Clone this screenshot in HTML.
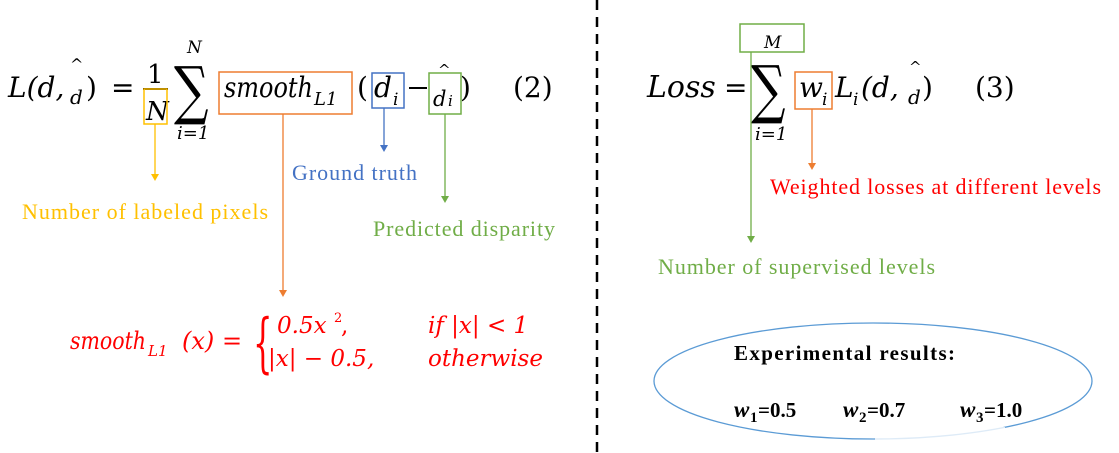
<!DOCTYPE html>
<html><head><meta charset="utf-8"><style>
html,body{margin:0;padding:0;background:#fff;}
svg{display:block;}
.m{font-family:"DejaVu Serif",serif;font-style:italic;}
.u{font-family:"DejaVu Serif",serif;}
.r{font-family:"Liberation Serif",serif;}
</style></head><body>
<svg width="1119" height="453" viewBox="0 0 1119 453" xmlns="http://www.w3.org/2000/svg">
<line x1="597" y1="0" x2="597" y2="453" stroke="#000" stroke-width="2.5" stroke-dasharray="10,7"/>

<!-- Left equation -->
<text class="m" x="8" y="97" font-size="28">L(d,</text>
<text class="u" x="70" y="70" font-size="16">^</text>
<text class="m" x="70" y="104" font-size="20">d</text>
<text class="u" x="86" y="97" font-size="28">)</text>
<text class="u" x="111" y="97" font-size="28">=</text>
<text class="u" x="147" y="83" font-size="26">1</text>
<line x1="143" y1="89" x2="168" y2="89" stroke="#000" stroke-width="2"/>
<text class="m" x="146" y="120" font-size="26">N</text>
<rect x="144" y="89" width="23" height="35" fill="none" stroke="#ffc000" stroke-width="1.5"/>
<text class="u" x="0" y="0" font-size="44" transform="translate(174,112) scale(1.1,1.45)">∑</text>
<text class="m" x="187" y="53" font-size="17">N</text>
<text class="m" x="177" y="139" font-size="18">i=1</text>
<rect x="219" y="72" width="133" height="42" fill="none" stroke="#ed7d31" stroke-width="1.5"/>
<text class="m" x="224" y="97" font-size="28" textLength="89" lengthAdjust="spacingAndGlyphs">smooth</text>
<text class="m" x="314" y="105" font-size="18">L1</text>
<text class="u" x="357" y="97" font-size="28">(</text>
<rect x="372" y="73" width="32" height="35" fill="none" stroke="#4472c4" stroke-width="1.5"/>
<text class="m" x="374" y="97" font-size="28">d</text>
<text class="m" x="393" y="105" font-size="17">i</text>
<line x1="409" y1="88" x2="427" y2="88" stroke="#000" stroke-width="2"/>
<text class="u" x="438" y="75" font-size="15">^</text>
<rect x="429" y="73" width="32" height="41" fill="none" stroke="#70ad47" stroke-width="1.5"/>
<text class="m" x="433" y="106" font-size="21">d</text>
<text class="m" x="448" y="106" font-size="15">i</text>
<text class="u" x="460" y="97" font-size="28">)</text>
<text class="u" x="513" y="97" font-size="28">(2)</text>

<!-- arrows left -->
<line x1="155" y1="124" x2="155" y2="175" stroke="#ffc000" stroke-width="1.3"/>
<path d="M151,174 L159,174 L155,181 z" fill="#ffc000"/>
<line x1="384" y1="108" x2="384" y2="146" stroke="#4472c4" stroke-width="1.3"/>
<path d="M380,145 L388,145 L384,152 z" fill="#4472c4"/>
<line x1="445" y1="114" x2="445" y2="197" stroke="#70ad47" stroke-width="1.3"/>
<path d="M441,196 L449,196 L445,203 z" fill="#70ad47"/>
<line x1="283" y1="114" x2="283" y2="291" stroke="#ed7d31" stroke-width="1.3"/>
<path d="M279,290 L287,290 L283,297 z" fill="#ed7d31"/>

<text class="r" x="292" y="180" font-size="22" fill="#4472c4" textLength="125">Ground truth</text>
<text class="r" x="22" y="219" font-size="22" fill="#ffc000" textLength="246">Number of labeled pixels</text>
<text class="r" x="373" y="236" font-size="22" fill="#70ad47" textLength="182">Predicted disparity</text>

<!-- red formula -->
<g fill="#ff0000">
<text class="m" x="70" y="349" font-size="24" textLength="76" lengthAdjust="spacingAndGlyphs">smooth</text>
<text class="m" x="148" y="356" font-size="15">L1</text>
<text class="m" x="182" y="349" font-size="24">(x)</text>
<text class="u" x="222" y="349" font-size="24">=</text>
<text class="u" x="0" y="0" font-size="34" transform="translate(253,365) scale(0.9,1.9)">{</text>
<text class="m" x="277" y="333" font-size="23">0.5x</text>
<text class="u" x="334" y="322" font-size="13">2</text>
<text class="u" x="341" y="333" font-size="23">,</text>
<text class="m" x="268" y="366" font-size="23">|x| − 0.5,</text>
<text class="m" x="428" y="333" font-size="23">if |x| &lt; 1</text>
<text class="m" x="428" y="366" font-size="23">otherwise</text>
</g>

<!-- Right equation -->
<text class="m" x="647" y="97" font-size="30">Loss</text>
<text class="u" x="724" y="97" font-size="28">=</text>
<rect x="740" y="24" width="64" height="28" fill="none" stroke="#70ad47" stroke-width="1.5"/>
<text class="m" x="764" y="48" font-size="17">M</text>
<text class="u" x="0" y="0" font-size="44" transform="translate(751,111) scale(1.1,1.45)">∑</text>
<text class="m" x="755" y="140" font-size="18">i=1</text>
<rect x="795" y="72" width="37" height="37" fill="none" stroke="#ed7d31" stroke-width="1.5"/>
<text class="m" x="799" y="97" font-size="28">w</text>
<text class="m" x="822" y="105" font-size="17">i</text>
<text class="m" x="835" y="97" font-size="28">L</text>
<text class="m" x="853" y="105" font-size="17">i</text>
<text class="m" x="861" y="97" font-size="28">(d,</text>
<text class="u" x="909" y="72" font-size="15">^</text>
<text class="m" x="908" y="104" font-size="20">d</text>
<text class="u" x="922" y="97" font-size="28">)</text>
<text class="u" x="975" y="97" font-size="28">(3)</text>

<line x1="751" y1="52" x2="751" y2="237" stroke="#70ad47" stroke-width="1.3"/>
<path d="M747,236 L755,236 L751,243 z" fill="#70ad47"/>
<line x1="812" y1="109" x2="812" y2="164" stroke="#ed7d31" stroke-width="1.3"/>
<path d="M808,163 L816,163 L812,170 z" fill="#ed7d31"/>

<text class="r" x="770" y="194" font-size="22" fill="#ff0000" textLength="331">Weighted losses at different levels</text>
<text class="r" x="658" y="274" font-size="22" fill="#70ad47" textLength="277">Number of supervised levels</text>

<ellipse cx="873" cy="381" rx="219" ry="58" fill="none" stroke="#5b9bd5" stroke-width="1.3"/>
<rect x="875" y="427" width="130" height="18" fill="#fff" opacity="0.8"/>
<text class="r" x="734" y="360" font-size="21" font-weight="bold" textLength="221">Experimental results:</text>
<g>
<text class="r" x="734" y="417" font-size="23" font-style="italic" font-weight="bold">w</text><text class="r" x="750" y="422" font-size="15" font-weight="bold">1</text><text class="r" x="758" y="417" font-size="21" font-weight="bold">=0.5</text>
<text class="r" x="843" y="417" font-size="23" font-style="italic" font-weight="bold">w</text><text class="r" x="859" y="422" font-size="15" font-weight="bold">2</text><text class="r" x="867" y="417" font-size="21" font-weight="bold">=0.7</text>
<text class="r" x="960" y="417" font-size="23" font-style="italic" font-weight="bold">w</text><text class="r" x="976" y="422" font-size="15" font-weight="bold">3</text><text class="r" x="984" y="417" font-size="21" font-weight="bold">=1.0</text>
</g>
</svg>
</body></html>
